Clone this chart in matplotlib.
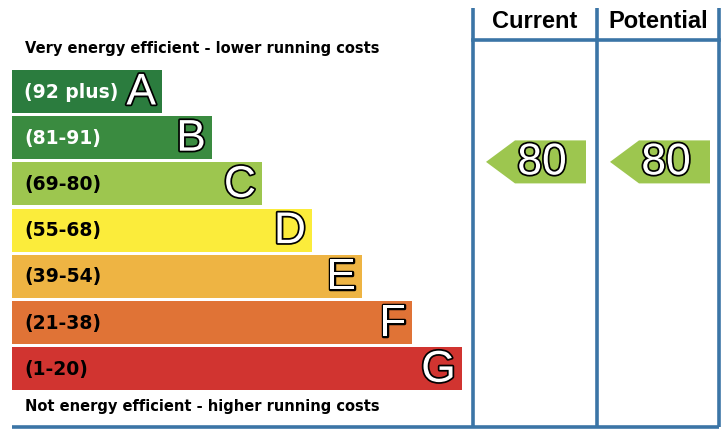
import matplotlib.pyplot as plt
from matplotlib.patches import Rectangle, Polygon
import matplotlib.patheffects as pe

bands = ['A', 'B', 'C', 'D', 'E', 'F', 'G']
ranges = ['(92 plus)', '(81-91)', '(69-80)', '(55-68)', '(39-54)', '(21-38)', '(1-20)']
lower_bounds = [92, 81, 69, 55, 39, 21, 1]
band_colors = ['#2b7c3e', '#3a8b40', '#9dc64f', '#fbec3b', '#eeb443', '#e07336', '#d13430']
range_text_colors = ['white', 'white', 'black', 'black', 'black', 'black', 'black']
current = 80
potential = 80

line_blue = '#3b75a6'
font = 'Liberation Sans'
wide_font = 'DejaVu Sans'

fig = plt.figure(figsize=(7.28, 4.34), dpi=100)
ax = fig.add_axes([0, 0, 1, 1])
ax.set_xlim(0, 728)
ax.set_ylim(434, 0)
ax.axis('off')

outline = [pe.withStroke(linewidth=2.5, foreground='black')]

# rating bands
for i, (b, r, c, tc) in enumerate(zip(bands, ranges, band_colors, range_text_colors)):
    top = 70 + i * 46.2
    right = 162 + i * 50
    ax.add_patch(Rectangle((12, top), right - 12, 43, facecolor=c, edgecolor='none'))
    ax.text(24, top + 22, r, color=tc, fontsize=13.5, fontweight='bold', family=wide_font,
            va='center', ha='left')
    ax.text(right - 6, top + 23, b, color='white', fontsize=32, family=font,
            va='center', ha='right', path_effects=outline)

ax.text(25, 49, 'Very energy efficient - lower running costs', fontsize=10.5,
        fontweight='bold', family=wide_font, va='center', ha='left')
ax.text(25, 407, 'Not energy efficient - higher running costs', fontsize=10.5,
        fontweight='bold', family=wide_font, va='center', ha='left')

# frame lines
for x in [473, 597, 719]:
    ax.plot([x, x], [8, 427], color=line_blue, lw=2.6, solid_capstyle='butt')
ax.plot([473, 719], [40, 40], color=line_blue, lw=2.6)
ax.plot([12, 719], [427, 427], color=line_blue, lw=2.6, solid_capstyle='butt')

ax.text(535, 21, 'Current', fontsize=17, fontweight='bold', family=font,
        va='center', ha='center')
ax.text(658, 21, 'Potential', fontsize=17, fontweight='bold', family=font,
        va='center', ha='center')


def band_index(score):
    for i, lb in enumerate(lower_bounds):
        if score >= lb:
            return i
    return len(bands) - 1


def arrow(x_tip, score):
    i = band_index(score)
    top = 70 + i * 46.2 - 22
    bot = top + 43
    mid = (top + bot) / 2
    pts = [(x_tip, mid), (x_tip + 29, top), (x_tip + 100, top),
           (x_tip + 100, bot), (x_tip + 29, bot)]
    ax.add_patch(Polygon(pts, closed=True, facecolor=band_colors[i], edgecolor='none'))
    ax.text(x_tip + 56, mid + 1, str(score), color='white', fontsize=32, family=font,
            va='center', ha='center', path_effects=outline)


arrow(486, current)
arrow(610, potential)

fig.savefig('out.png', dpi=100)
